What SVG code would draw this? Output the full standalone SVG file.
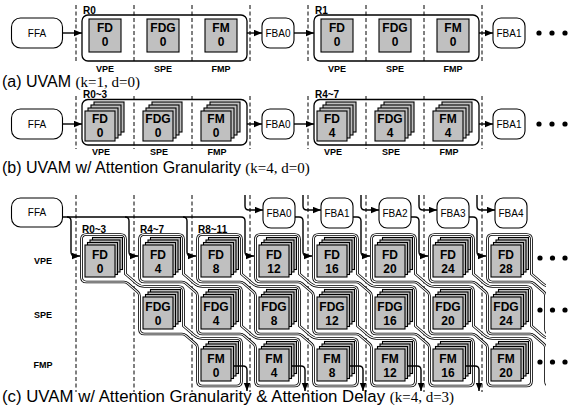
<svg xmlns="http://www.w3.org/2000/svg" width="570" height="417" viewBox="0 0 570 417">
<style>
.bx{fill:#c0c0c0;stroke:#000;stroke-width:1.1}
.nd{fill:#fff;stroke:#000;stroke-width:1.1}
.ct{fill:none;stroke:#000;stroke-width:1.3}
.ln{fill:none;stroke:#000;stroke-width:1.4}
.ds{fill:none;stroke:#000;stroke-width:1;stroke-dasharray:4 2.5}
.bo{stroke:#000;stroke-width:2.7}
.bi{stroke:#fff;stroke-width:1.1}
.dot{fill:#000}
text{font-family:"Liberation Sans",Arial,Helvetica,sans-serif;fill:#000}
.t{font-size:12px;font-weight:bold;text-anchor:middle}
.pe{font-size:9px;font-weight:bold;text-anchor:middle}
.rl{font-size:10px;font-weight:bold}
.nm{font-size:10px;text-anchor:middle}
.cp{font-size:16px}
.cp2{font-size:16.8px}
.tm{font-family:"Liberation Serif","Times New Roman",serif;font-size:15px}
</style>
<defs>
<marker id="ah" markerWidth="9" markerHeight="7" refX="8" refY="3.2" orient="auto" markerUnits="userSpaceOnUse"><path d="M0,0 L8,3.2 L0,6.4 Z" fill="#000"/></marker>
<g id="stb"><rect class="bx" x="9" y="-9" width="30" height="30"/><rect class="bx" x="6" y="-6" width="30" height="30"/><rect class="bx" x="3" y="-3" width="30" height="30"/><rect class="bx" x="0" y="0" width="30" height="30"/></g>
<g id="stc"><rect class="bx" x="7.5" y="-7.5" width="30" height="32"/><rect class="bx" x="5" y="-5" width="30" height="32"/><rect class="bx" x="2.5" y="-2.5" width="30" height="32"/><rect class="bx" x="0" y="0" width="30" height="32"/></g>
<path id="band" fill="none" d="M5.5,239.5 Q5.5,234.5 10.5,234.5 H44.5 Q49.5,234.5 49.5,239.5 V274 L60.5,283.5 Q64,286.5 68.5,286.5 H102.5 Q107.5,286.5 107.5,291.5 V326 L118.5,335.5 Q122,338.5 126.5,338.5 H160.5 Q165.5,338.5 165.5,343.5 V381 Q165.5,386 160.5,386 H126.5 Q121.5,386 121.5,381 V348 Q121.5,345.6 119.8,344.1 L110,335.6 Q108.2,334 106,334 H68.5 Q63.5,334 63.5,329 V296 Q63.5,293.6 61.8,292.1 L52,283.6 Q50.2,282 48,282 H10.5 Q5.5,282 5.5,277 Z"/>
<clipPath id="cb"><rect x="0" y="190" width="546" height="210"/></clipPath>
</defs>
<rect width="570" height="417" fill="#fff"/>

<!-- ============ (a) ============ -->
<g id="a-dashes" class="ds">
<line x1="76" y1="5" x2="76" y2="62"/><line x1="134" y1="5" x2="134" y2="62"/><line x1="192" y1="5" x2="192" y2="62"/><line x1="250" y1="5" x2="250" y2="62"/>
<line x1="308" y1="5" x2="308" y2="62"/><line x1="366" y1="5" x2="366" y2="62"/><line x1="424" y1="5" x2="424" y2="62"/><line x1="482" y1="5" x2="482" y2="62"/>
</g>
<g id="a-ffa"><rect class="nd" x="11.5" y="18" width="51" height="30" rx="9"/><text class="nm" x="37" y="37">FFA</text></g>
<g id="a-r0"><rect class="ct" x="82" y="15" width="165" height="46" rx="6"/><text class="rl" x="83" y="13.5">R0</text></g>
<g id="a-fd0"><rect class="bx" x="89" y="19" width="32" height="33"/><text class="t" x="105" y="32">FD</text><text class="t" x="105" y="45.5">0</text></g>
<g id="a-fdg0"><rect class="bx" x="147" y="19" width="32" height="33"/><text class="t" x="163" y="32">FDG</text><text class="t" x="163" y="45.5">0</text></g>
<g id="a-fm0"><rect class="bx" x="205" y="19" width="32" height="33"/><text class="t" x="221" y="32">FM</text><text class="t" x="221" y="45.5">0</text></g>
<g id="a-fba0"><rect class="nd" x="262" y="18" width="32" height="30" rx="8"/><text class="nm" x="278" y="37">FBA0</text></g>
<g id="a-r1"><rect class="ct" x="314" y="15" width="165" height="46" rx="6"/><text class="rl" x="315" y="13.5">R1</text></g>
<g id="a-fd0b"><rect class="bx" x="321" y="19" width="32" height="33"/><text class="t" x="337" y="32">FD</text><text class="t" x="337" y="45.5">0</text></g>
<g id="a-fdg0b"><rect class="bx" x="379" y="19" width="32" height="33"/><text class="t" x="395" y="32">FDG</text><text class="t" x="395" y="45.5">0</text></g>
<g id="a-fm0b"><rect class="bx" x="437" y="19" width="32" height="33"/><text class="t" x="453" y="32">FM</text><text class="t" x="453" y="45.5">0</text></g>
<g id="a-fba1"><rect class="nd" x="493" y="18" width="32" height="30" rx="8"/><text class="nm" x="509" y="37">FBA1</text></g>
<g id="a-dots" class="dot"><circle cx="539" cy="33" r="2.6"/><circle cx="552" cy="33" r="2.6"/><circle cx="565" cy="33" r="2.6"/></g>
<g id="a-conn" class="ln">
<path d="M62.5,33 H82" marker-end="url(#ah)"/><path d="M247,33 H262" marker-end="url(#ah)"/><path d="M294,33 H314" marker-end="url(#ah)"/><path d="M479,33 H493" marker-end="url(#ah)"/>
</g>
<g id="a-pe" class="pe"><text x="105" y="72">VPE</text><text x="163" y="72">SPE</text><text x="221" y="72">FMP</text><text x="337" y="72">VPE</text><text x="395" y="72">SPE</text><text x="453" y="72">FMP</text></g>
<text x="2" y="86.5"><tspan class="cp">(a) UVAM </tspan><tspan class="tm">(k=1, d=0)</tspan></text>

<!-- ============ (b) ============ -->
<g id="b-dashes" class="ds">
<line x1="76" y1="96" x2="76" y2="149"/><line x1="134" y1="96" x2="134" y2="149"/><line x1="192" y1="96" x2="192" y2="149"/><line x1="250" y1="96" x2="250" y2="149"/>
<line x1="308" y1="96" x2="308" y2="149"/><line x1="366" y1="96" x2="366" y2="149"/><line x1="424" y1="96" x2="424" y2="149"/><line x1="482" y1="96" x2="482" y2="149"/>
</g>
<g id="b-ffa"><rect class="nd" x="11.5" y="109" width="51" height="30" rx="9"/><text class="nm" x="37" y="128">FFA</text></g>
<g id="b-r03"><rect class="ct" x="82" y="99.5" width="165" height="45.5" rx="6"/><text class="rl" x="83" y="98">R0~3</text></g>
<g id="b-fd0"><use href="#stb" x="85" y="111"/><text class="t" x="100" y="123">FD</text><text class="t" x="100" y="136.5">0</text></g>
<g id="b-fdg0"><use href="#stb" x="143" y="111"/><text class="t" x="158" y="123">FDG</text><text class="t" x="158" y="136.5">0</text></g>
<g id="b-fm0"><use href="#stb" x="201" y="111"/><text class="t" x="216" y="123">FM</text><text class="t" x="216" y="136.5">0</text></g>
<g id="b-fba0"><rect class="nd" x="262" y="109" width="32" height="30" rx="8"/><text class="nm" x="278" y="128">FBA0</text></g>
<g id="b-r47"><rect class="ct" x="314" y="99.5" width="165" height="45.5" rx="6"/><text class="rl" x="315" y="98">R4~7</text></g>
<g id="b-fd4"><use href="#stb" x="317" y="111"/><text class="t" x="332" y="123">FD</text><text class="t" x="332" y="136.5">4</text></g>
<g id="b-fdg4"><use href="#stb" x="375" y="111"/><text class="t" x="390" y="123">FDG</text><text class="t" x="390" y="136.5">4</text></g>
<g id="b-fm4"><use href="#stb" x="433" y="111"/><text class="t" x="448" y="123">FM</text><text class="t" x="448" y="136.5">4</text></g>
<g id="b-fba1"><rect class="nd" x="493" y="109" width="32" height="30" rx="8"/><text class="nm" x="509" y="128">FBA1</text></g>
<g id="b-dots" class="dot"><circle cx="539" cy="124" r="2.6"/><circle cx="552" cy="124" r="2.6"/><circle cx="565" cy="124" r="2.6"/></g>
<g id="b-conn" class="ln">
<path d="M62.5,124 H82" marker-end="url(#ah)"/><path d="M247,124 H262" marker-end="url(#ah)"/><path d="M294,124 H314" marker-end="url(#ah)"/><path d="M479,124 H493" marker-end="url(#ah)"/>
</g>
<g id="b-pe" class="pe"><text x="101" y="155">VPE</text><text x="159" y="155">SPE</text><text x="217" y="155">FMP</text><text x="333" y="155">VPE</text><text x="391" y="155">SPE</text><text x="449" y="155">FMP</text></g>
<text x="2" y="173"><tspan class="cp">(b) UVAM w/ Attention Granularity </tspan><tspan class="tm">(k=4, d=0)</tspan></text>

<!-- ============ (c) ============ -->
<g id="c-dashes" class="ds">
<line x1="76" y1="195" x2="76" y2="392"/><line x1="134" y1="195" x2="134" y2="392"/><line x1="192" y1="195" x2="192" y2="392"/><line x1="250" y1="195" x2="250" y2="392"/>
<line x1="308" y1="195" x2="308" y2="392"/><line x1="366" y1="195" x2="366" y2="392"/><line x1="424" y1="195" x2="424" y2="392"/><line x1="482" y1="195" x2="482" y2="392"/>
</g>
<g id="c-bands" clip-path="url(#cb)">
<g class="bo"><use href="#band" x="76"/><use href="#band" x="134"/><use href="#band" x="192"/><use href="#band" x="250"/><use href="#band" x="308"/><use href="#band" x="366"/><use href="#band" x="424"/><use href="#band" x="482"/></g>
<g class="bi"><use href="#band" x="76"/><use href="#band" x="134"/><use href="#band" x="192"/><use href="#band" x="250"/><use href="#band" x="308"/><use href="#band" x="366"/><use href="#band" x="424"/><use href="#band" x="482"/></g>
</g>
<g id="c-rlabels" class="rl"><text x="82" y="232.5">R0~3</text><text x="140" y="232.5">R4~7</text><text x="198" y="232.5">R8~11</text></g>
<g id="c-ffa"><rect class="nd" x="11.5" y="198" width="51" height="29" rx="9"/><text class="nm" x="37" y="216">FFA</text></g>
<g id="c-fba0"><rect class="nd" x="263" y="198" width="32" height="30" rx="8"/><text class="nm" x="279" y="216.5">FBA0</text></g>
<g id="c-fba1"><rect class="nd" x="321" y="198" width="32" height="30" rx="8"/><text class="nm" x="337" y="216.5">FBA1</text></g>
<g id="c-fba2"><rect class="nd" x="379" y="198" width="32" height="30" rx="8"/><text class="nm" x="395" y="216.5">FBA2</text></g>
<g id="c-fba3"><rect class="nd" x="437" y="198" width="32" height="30" rx="8"/><text class="nm" x="453" y="216.5">FBA3</text></g>
<g id="c-fba4"><rect class="nd" x="495" y="198" width="32" height="30" rx="8"/><text class="nm" x="511" y="216.5">FBA4</text></g>

<g id="c-fd0"><use href="#stc" x="85" y="245"/><text class="t" x="100" y="259">FD</text><text class="t" x="100" y="272.5">0</text></g>
<g id="c-fd4"><use href="#stc" x="143" y="245"/><text class="t" x="158" y="259">FD</text><text class="t" x="158" y="272.5">4</text></g>
<g id="c-fd8"><use href="#stc" x="201" y="245"/><text class="t" x="216" y="259">FD</text><text class="t" x="216" y="272.5">8</text></g>
<g id="c-fd12"><use href="#stc" x="259" y="245"/><text class="t" x="274" y="259">FD</text><text class="t" x="274" y="272.5">12</text></g>
<g id="c-fd16"><use href="#stc" x="317" y="245"/><text class="t" x="332" y="259">FD</text><text class="t" x="332" y="272.5">16</text></g>
<g id="c-fd20"><use href="#stc" x="375" y="245"/><text class="t" x="390" y="259">FD</text><text class="t" x="390" y="272.5">20</text></g>
<g id="c-fd24"><use href="#stc" x="433" y="245"/><text class="t" x="448" y="259">FD</text><text class="t" x="448" y="272.5">24</text></g>
<g id="c-fd28"><use href="#stc" x="491" y="245"/><text class="t" x="506" y="259">FD</text><text class="t" x="506" y="272.5">28</text></g>

<g id="c-fdg0"><use href="#stc" x="143" y="297"/><text class="t" x="158" y="311">FDG</text><text class="t" x="158" y="324.5">0</text></g>
<g id="c-fdg4"><use href="#stc" x="201" y="297"/><text class="t" x="216" y="311">FDG</text><text class="t" x="216" y="324.5">4</text></g>
<g id="c-fdg8"><use href="#stc" x="259" y="297"/><text class="t" x="274" y="311">FDG</text><text class="t" x="274" y="324.5">8</text></g>
<g id="c-fdg12"><use href="#stc" x="317" y="297"/><text class="t" x="332" y="311">FDG</text><text class="t" x="332" y="324.5">12</text></g>
<g id="c-fdg16"><use href="#stc" x="375" y="297"/><text class="t" x="390" y="311">FDG</text><text class="t" x="390" y="324.5">16</text></g>
<g id="c-fdg20"><use href="#stc" x="433" y="297"/><text class="t" x="448" y="311">FDG</text><text class="t" x="448" y="324.5">20</text></g>
<g id="c-fdg24"><use href="#stc" x="491" y="297"/><text class="t" x="506" y="311">FDG</text><text class="t" x="506" y="324.5">24</text></g>

<g id="c-fm0"><use href="#stc" x="201" y="349"/><text class="t" x="216" y="363">FM</text><text class="t" x="216" y="376.5">0</text></g>
<g id="c-fm4"><use href="#stc" x="259" y="349"/><text class="t" x="274" y="363">FM</text><text class="t" x="274" y="376.5">4</text></g>
<g id="c-fm8"><use href="#stc" x="317" y="349"/><text class="t" x="332" y="363">FM</text><text class="t" x="332" y="376.5">8</text></g>
<g id="c-fm12"><use href="#stc" x="375" y="349"/><text class="t" x="390" y="363">FM</text><text class="t" x="390" y="376.5">12</text></g>
<g id="c-fm16"><use href="#stc" x="433" y="349"/><text class="t" x="448" y="363">FM</text><text class="t" x="448" y="376.5">16</text></g>
<g id="c-fm20"><use href="#stc" x="491" y="349"/><text class="t" x="506" y="363">FM</text><text class="t" x="506" y="376.5">20</text></g>

<g id="c-conn" class="ln">
<path d="M62.5,217 H241 Q245,217 245,221 V252 Q245,256 249,256 H254" marker-end="url(#ah)"/>
<path d="M67,217 Q71,217 71,221 V252 Q71,256 75,256 H80" marker-end="url(#ah)"/>
<path d="M125,217 Q129,217 129,221 V252 Q129,256 133,256 H138" marker-end="url(#ah)"/>
<path d="M183,217 Q187,217 187,221 V252 Q187,256 191,256 H196" marker-end="url(#ah)"/>
<path d="M245,195 V206 Q245,210 249,210 H263" marker-end="url(#ah)"/>
<path d="M303,195 V206 Q303,210 307,210 H321" marker-end="url(#ah)"/>
<path d="M361,195 V206 Q361,210 365,210 H379" marker-end="url(#ah)"/>
<path d="M419,195 V206 Q419,210 423,210 H437" marker-end="url(#ah)"/>
<path d="M477,195 V206 Q477,210 481,210 H495" marker-end="url(#ah)"/>
<path d="M295,217 H299 Q303,217 303,221 V252 Q303,256 307,256 H312" marker-end="url(#ah)"/>
<path d="M353,217 H357 Q361,217 361,221 V252 Q361,256 365,256 H370" marker-end="url(#ah)"/>
<path d="M411,217 H415 Q419,217 419,221 V252 Q419,256 423,256 H428" marker-end="url(#ah)"/>
<path d="M469,217 H473 Q477,217 477,221 V252 Q477,256 481,256 H486" marker-end="url(#ah)"/>
<path d="M234,366 H243 Q247,366 247,370 V391" marker-end="url(#ah)"/>
<path d="M292,366 H301 Q305,366 305,370 V391" marker-end="url(#ah)"/>
<path d="M350,366 H359 Q363,366 363,370 V391" marker-end="url(#ah)"/>
<path d="M408,366 H417 Q421,366 421,370 V391" marker-end="url(#ah)"/>
<path d="M466,366 H475 Q479,366 479,370 V391" marker-end="url(#ah)"/>
</g>
<g id="c-pe" class="pe"><text x="43" y="264">VPE</text><text x="43" y="318">SPE</text><text x="43" y="368">FMP</text></g>
<g id="c-dots" class="dot">
<circle cx="540" cy="258" r="2.6"/><circle cx="552.5" cy="258" r="2.6"/><circle cx="565" cy="258" r="2.6"/>
<circle cx="540" cy="310" r="2.6"/><circle cx="552.5" cy="310" r="2.6"/><circle cx="565" cy="310" r="2.6"/>
<circle cx="540" cy="362" r="2.6"/><circle cx="552.5" cy="362" r="2.6"/><circle cx="565" cy="362" r="2.6"/>
</g>
<text x="2" y="402"><tspan class="cp2">(c) UVAM w/ Attention Granularity &amp; Attention Delay </tspan><tspan class="tm">(k=4, d=3)</tspan></text>
</svg>
